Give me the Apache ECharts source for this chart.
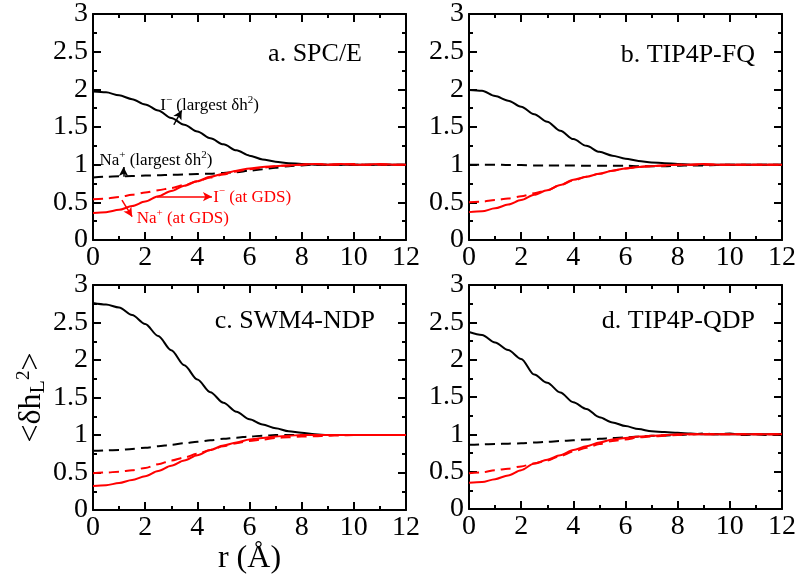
<!DOCTYPE html>
<html><head><meta charset="utf-8">
<script src="https://cdn.jsdelivr.net/npm/echarts@6/dist/echarts.min.js"></script>
<style>html,body{margin:0;padding:0;background:#fff}#c{width:800px;height:581px}</style>
</head><body><div id="c"></div>
<script>
// r values (Å)
const xs = [0,0.5,1,1.5,2,2.5,3,3.5,4,4.5,5,5.5,6,6.5,7,7.5,8,8.5,9,9.5,10,10.5,11,11.5,12];

// a. SPC/E
const aIBlack  = [1.97,1.96,1.92,1.87,1.80,1.72,1.62,1.53,1.44,1.35,1.27,1.19,1.12,1.07,1.04,1.02,1.01,1.00,1.00,1.00,1.00,1.00,1.00,1.00,1.00];
const aNaBlack = [0.83,0.84,0.845,0.85,0.855,0.86,0.865,0.87,0.875,0.88,0.89,0.90,0.92,0.94,0.96,0.98,0.99,1.00,1.00,1.00,1.00,1.00,1.00,1.00,1.00];
const aIRed    = [0.54,0.55,0.57,0.60,0.63,0.66,0.69,0.73,0.78,0.83,0.87,0.91,0.94,0.96,0.98,0.99,1.00,1.01,1.00,1.00,1.01,1.00,1.00,1.00,1.00];
const aNaRed   = [0.36,0.37,0.40,0.45,0.51,0.58,0.65,0.72,0.78,0.84,0.88,0.92,0.95,0.97,0.98,0.99,1.00,1.01,1.00,1.01,1.00,1.00,1.01,1.00,1.00];

// b. TIP4P-FQ
const bIBlack  = [1.99,1.98,1.91,1.85,1.77,1.67,1.57,1.45,1.34,1.25,1.17,1.12,1.08,1.05,1.03,1.02,1.01,1.00,1.00,1.00,1.00,1.00,1.00,1.00,1.00];
const bNaBlack = [1.00,1.00,1.00,0.995,0.995,0.99,0.99,0.99,0.99,0.985,0.985,0.985,0.985,0.98,0.98,0.98,0.985,0.99,0.99,0.995,1.00,1.00,1.00,1.00,1.00];
const bIRed    = [0.50,0.51,0.53,0.55,0.58,0.62,0.66,0.73,0.79,0.84,0.88,0.92,0.95,0.97,0.98,0.99,1.00,1.00,1.00,1.00,1.00,1.00,1.00,1.00,1.00];
const bNaRed   = [0.37,0.38,0.42,0.47,0.53,0.60,0.66,0.73,0.80,0.84,0.88,0.92,0.95,0.97,0.98,0.99,1.00,1.00,1.01,1.00,1.00,1.00,1.00,1.00,1.00];

// c. SWM4-NDP
const cIBlack  = [2.76,2.74,2.70,2.60,2.48,2.32,2.13,1.93,1.74,1.57,1.43,1.31,1.21,1.14,1.09,1.05,1.03,1.01,1.00,1.00,1.00,1.00,1.00,1.00,1.00];
const cNaBlack = [0.79,0.795,0.80,0.815,0.83,0.85,0.87,0.89,0.91,0.93,0.95,0.965,0.98,0.99,1.00,1.00,1.00,1.00,1.00,1.00,1.00,1.00,1.00,1.00,1.00];
const cIRed    = [0.49,0.50,0.51,0.53,0.56,0.61,0.66,0.70,0.75,0.80,0.85,0.89,0.92,0.94,0.96,0.97,0.98,0.985,0.99,0.995,1.00,1.00,1.00,1.00,1.00];
const cNaRed   = [0.32,0.33,0.36,0.40,0.45,0.52,0.59,0.66,0.73,0.80,0.86,0.90,0.94,0.96,0.98,0.99,1.00,1.00,1.00,1.00,1.00,1.00,1.00,1.00,1.00];

// d. TIP4P-QDP
const dIBlack  = [2.37,2.33,2.23,2.13,2.01,1.80,1.69,1.56,1.43,1.34,1.23,1.16,1.11,1.07,1.04,1.03,1.02,1.01,1.00,1.00,1.00,1.00,1.00,1.00,1.00];
const dNaBlack = [0.86,0.865,0.87,0.875,0.88,0.89,0.90,0.91,0.92,0.93,0.94,0.95,0.96,0.97,0.98,0.985,0.99,1.00,1.01,1.00,1.01,0.99,1.00,0.99,1.00];
const dIRed    = [0.48,0.49,0.52,0.54,0.57,0.61,0.65,0.71,0.77,0.82,0.87,0.91,0.93,0.96,0.97,0.98,0.99,1.00,1.00,1.00,1.00,1.00,1.00,1.00,1.00];
const dNaRed   = [0.35,0.36,0.40,0.45,0.52,0.61,0.66,0.72,0.79,0.84,0.89,0.93,0.95,0.97,0.98,0.99,1.00,1.00,1.00,1.00,1.00,1.00,1.00,1.00,1.00];

const panelTitles = ['a. SPC/E','b. TIP4P-FQ','c. SWM4-NDP','d. TIP4P-QDP'];
const xTicks = [0,2,4,6,8,10,12];
const yTicks = [0,0.5,1,1.5,2,2.5,3];

const FONT = '"Liberation Serif","Times New Roman",serif';
const RED = '#ff0000';

const grids = [
  {left:93, top:14, width:313, height:226},
  {left:469, top:14, width:313, height:226},
  {left:93, top:285, width:313, height:225},
  {left:469, top:285, width:313, height:224}
];

function xAx(gi, pos){
  return {type:'value', gridIndex:gi, position:pos, min:xTicks[0], max:xTicks[xTicks.length-1], interval:xTicks[1]-xTicks[0],
    axisLine:{show:true, onZero:false, lineStyle:{color:'#000', width:2}},
    axisTick:{show:true, inside:true, length:8, lineStyle:{color:'#000', width:2}},
    minorTick:{show:true, splitNumber:2, length:4, lineStyle:{color:'#000', width:2}},
    axisLabel:{show:pos==='bottom', color:'#000', fontFamily:FONT, fontSize:28, margin:4},
    splitLine:{show:false}, minorSplitLine:{show:false}};
}
function yAx(gi, pos){
  return {type:'value', gridIndex:gi, position:pos, min:yTicks[0], max:yTicks[yTicks.length-1], interval:yTicks[1]-yTicks[0],
    axisLine:{show:true, onZero:false, lineStyle:{color:'#000', width:2}},
    axisTick:{show:true, inside:true, length:8, lineStyle:{color:'#000', width:2}},
    minorTick:{show:true, splitNumber:2, length:4, lineStyle:{color:'#000', width:2}},
    axisLabel:{show:pos==='left', color:'#000', fontFamily:FONT, fontSize:28, margin:5},
    splitLine:{show:false}, minorSplitLine:{show:false}};
}

const xAxis = [], yAxis = [];
for (let g=0; g<4; g++){
  xAxis.push(xAx(g,'bottom')); xAxis.push(xAx(g,'top'));
  yAxis.push(yAx(g,'left'));   yAxis.push(yAx(g,'right'));
}
// axis names on panel c
Object.assign(xAxis[4], {name:'r (Å)', nameLocation:'middle', nameGap:30,
  nameTextStyle:{fontFamily:FONT, fontSize:32, color:'#000'}});
Object.assign(yAxis[4], {name:'{m|<δh}{b|L}{p|2}{m|>}', nameLocation:'middle', nameRotate:90, nameGap:44,
  nameTextStyle:{fontFamily:FONT, fontSize:32, color:'#000', rich:{
    m:{fontFamily:FONT, fontSize:32, color:'#000', lineHeight:34},
    b:{fontFamily:FONT, fontSize:22, color:'#000', lineHeight:22, verticalAlign:'bottom'},
    p:{fontFamily:FONT, fontSize:19, color:'#000', lineHeight:19, verticalAlign:'top'}
  }}});

function pairs(v){ return xs.map((x,i)=>[x, v[i]]); }
function line(g, v, color, dashed, extra){
  return Object.assign({type:'line', xAxisIndex:2*g, yAxisIndex:2*g, data:pairs(v),
    symbol:'none', showSymbol:false, smooth:0.3, smoothMonotone:'x',
    lineStyle:{color:color, width:2, type:dashed?[10,6]:'solid'}}, extra||{});
}

function richFor(color){
  return {
    t:{fontFamily:FONT, fontSize:17, color:color, lineHeight:22},
    s:{fontFamily:FONT, fontSize:11, color:color, lineHeight:11, verticalAlign:'top'}
  };
}
function note(x, y, fmt, color){
  return {coord:[x,y], symbol:'circle', symbolSize:0, itemStyle:{color:'transparent'},
    label:{show:true, position:'inside', formatter:fmt, rich:richFor(color)}};
}
function arrow(x1,y1,x2,y2,color){
  return [{coord:[x1,y1], lineStyle:{color:color, width:1.5, type:'solid'}},
          {coord:[x2,y2], lineStyle:{color:color, width:1.5, type:'solid'}}];
}

const annotations = {
  type:'line', xAxisIndex:0, yAxisIndex:0, data:[], symbol:'none',
  markLine:{silent:true, symbol:['none','arrow'], symbolSize:[7,9], label:{show:false}, precision:4,
    data:[
      arrow(3.1,1.53,3.4,1.72,'#000'),
      arrow(1.17,0.84,1.17,0.97,'#000'),
      arrow(2.45,0.575,4.56,0.575,RED),
      arrow(1.11,0.53,1.50,0.31,RED)
    ]},
  markPoint:{silent:true, data:[
    note(4.47,1.78,'{t|I}{s|−}{t| (largest δh}{s|2}{t|)}','#000'),
    note(2.41,1.05,'{t|Na}{s|+}{t| (largest δh}{s|2}{t|)}','#000'),
    note(6.10,0.57,'{t|I}{s|−}{t| (at GDS)}',RED),
    note(3.44,0.29,'{t|Na}{s|+}{t| (at GDS)}',RED)
  ]}
};

const sets = [
  [aIBlack,aNaBlack,aIRed,aNaRed],
  [bIBlack,bNaBlack,bIRed,bNaRed],
  [cIBlack,cNaBlack,cIRed,cNaRed],
  [dIBlack,dNaBlack,dIRed,dNaRed]
];
const series = [];
sets.forEach((s,g)=>{
  series.push(line(g, s[0], '#000', false));
  series.push(line(g, s[1], '#000', true));
  series.push(line(g, s[2], RED, true));
  series.push(line(g, s[3], RED, false));
});
series.push(annotations);

const titlePos = [
  {right:438, top:41}, {right:45, top:42}, {right:425, top:308}, {right:45, top:308}
];
const title = panelTitles.map((t,i)=>Object.assign({text:t, padding:0,
  textStyle:{fontFamily:FONT, fontSize:26, fontWeight:'normal', color:'#000'}}, titlePos[i]));

const chart = echarts.init(document.getElementById('c'), null, {renderer:'canvas'});
chart.setOption({animation:false, backgroundColor:'#fff', title, grid:grids, xAxis, yAxis, series});
</script></body></html>
